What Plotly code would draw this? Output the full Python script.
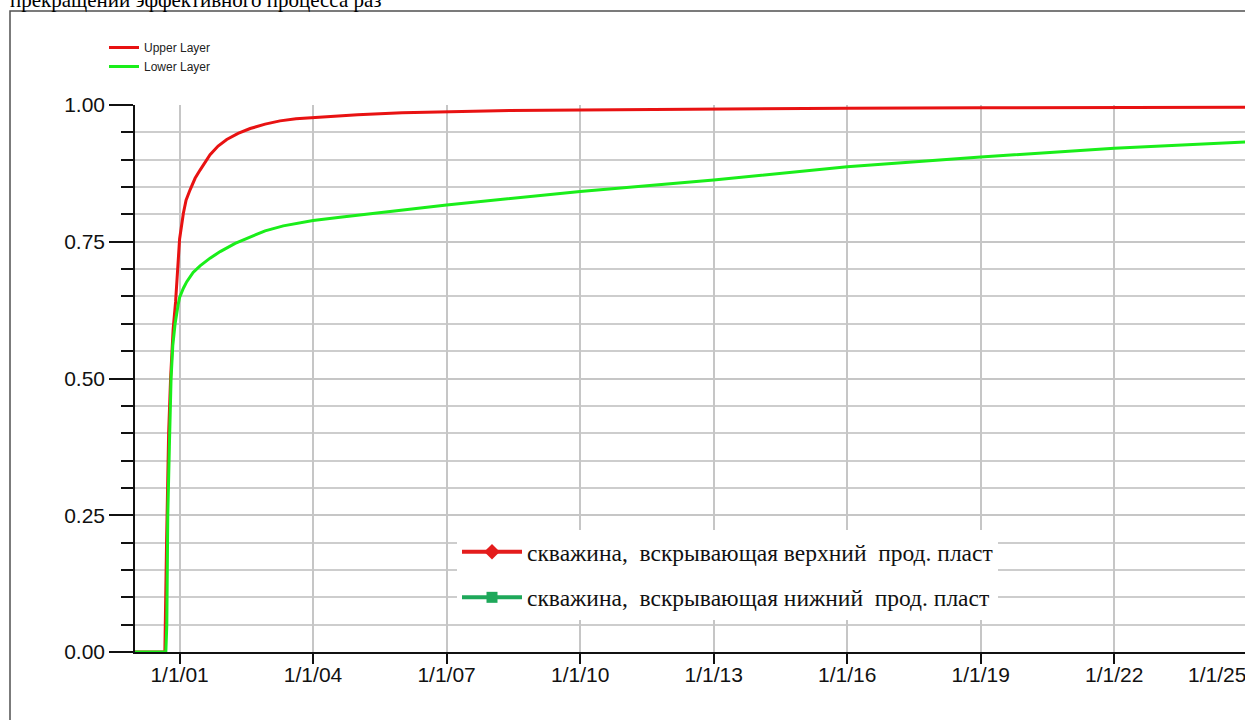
import plotly.graph_objects as go

# ---- data ----
upper_dates = ["2000-01-01", "2000-09-02", "2000-09-16", "2000-10-03", "2000-10-19", "2000-11-09",
               "2000-11-29", "2000-12-16", "2001-01-01", "2001-02-01", "2001-02-23", "2001-03-28",
               "2001-05-08", "2001-06-18", "2001-07-29", "2001-09-08", "2001-11-13", "2002-01-23",
               "2002-04-26", "2002-08-03", "2002-12-04", "2003-04-05", "2003-08-14", "2004-01-01",
               "2005-01-01", "2006-01-01", "2007-01-01", "2008-06-01", "2010-01-01", "2013-01-01",
               "2016-01-01", "2019-01-01", "2022-01-01", "2025-03-01"]
upper_vals = [0.0, 0.0, 0.20, 0.40, 0.50, 0.59, 0.64, 0.70, 0.755, 0.802, 0.826, 0.845,
              0.866, 0.881, 0.896, 0.909, 0.925, 0.937, 0.948, 0.957, 0.965, 0.971, 0.975, 0.977,
              0.982, 0.986, 0.988, 0.990, 0.991, 0.993, 0.994, 0.995, 0.996, 0.996]

lower_dates = ["2000-01-01", "2000-09-10", "2000-09-18", "2000-09-26", "2000-10-09", "2000-10-23",
               "2000-11-06", "2000-11-25", "2000-12-20", "2001-01-01", "2001-02-01", "2001-03-01",
               "2001-04-22", "2001-06-18", "2001-09-08", "2001-11-30", "2002-04-02", "2002-08-03",
               "2002-12-04", "2003-05-02", "2004-01-01", "2004-08-10", "2005-07-04", "2007-01-01",
               "2010-01-01", "2013-01-01", "2016-01-01", "2019-01-01", "2022-01-01", "2025-03-01"]
lower_vals = [0.0, 0.0, 0.05, 0.25, 0.375, 0.50, 0.56, 0.60, 0.635, 0.648, 0.665, 0.677,
              0.694, 0.706, 0.720, 0.732, 0.747, 0.759, 0.770, 0.779, 0.789, 0.795, 0.803, 0.817,
              0.842, 0.863, 0.887, 0.905, 0.921, 0.933]

series_names = ["Upper Layer", "Lower Layer"]
well_names = ["скважина,  вскрывающая верхний  прод. пласт",
              "скважина,  вскрывающая нижний  прод. пласт"]
caption_text = "прекращении эффективного процесса раз"
last_tick_date = "2025-01-01"
last_tick_text = "1/1/25"

x_range = ["2000-01-01", "2025-03-01"]

# ---- figure ----
W, H = 1255, 720
L, T, B = 135, 105, 68
PW, PH = W - L, H - T - B


def px(xp):
    return (xp - L) / PW


def py(yp):
    return (H - B - yp) / PH


fig = go.Figure()
fig.add_trace(go.Scatter(x=upper_dates, y=upper_vals, mode="lines", name=series_names[0],
                         line=dict(color="#e81212", width=3), legend="legend", hoverinfo="skip"))
fig.add_trace(go.Scatter(x=lower_dates, y=lower_vals, mode="lines", name=series_names[1],
                         line=dict(color="#1aee1a", width=3), legend="legend", hoverinfo="skip"))

fig.add_trace(go.Scatter(x=[None], y=[None], mode="lines+markers", name=well_names[0],
                         line=dict(color="#e41c1c", width=4),
                         marker=dict(symbol="diamond", size=12, color="#e41c1c"),
                         legend="legend2", legendgroup="a"))
fig.add_trace(go.Scatter(x=[None], y=[None], mode="lines+markers", name=well_names[1],
                         line=dict(color="#1ea85a", width=4),
                         marker=dict(symbol="square", size=11, color="#1ea85a"),
                         legend="legend2", legendgroup="b"))

fig.update_layout(
    width=W, height=H,
    margin=dict(l=L, r=0, t=T, b=B, pad=0),
    paper_bgcolor="white", plot_bgcolor="white",
    font=dict(family="Liberation Sans, Arial, sans-serif", color="#111111"),
    showlegend=True,
    legend=dict(x=px(104), y=py(33), xanchor="left", yanchor="top",
                bgcolor="rgba(0,0,0,0)", borderwidth=0,
                font=dict(family="Liberation Sans, Arial, sans-serif", size=12, color="#222222"),
                itemwidth=30, tracegroupgap=0),
    legend2=dict(x=px(457), y=py(530), xanchor="left", yanchor="top",
                 bgcolor="white", borderwidth=0,
                 font=dict(family="Liberation Serif, Times New Roman, serif", size=23.5, color="#111111"),
                 itemwidth=60, tracegroupgap=12),
    xaxis=dict(type="date", range=x_range, tick0="2001-01-01", dtick="M36",
               tickformat="%-m/%-d/%y", showgrid=True, gridcolor="#c6c6c6", gridwidth=2,
               ticks="outside", ticklen=10, tickwidth=2, tickcolor="#111111",
               showline=True, linecolor="#111111", linewidth=2, zeroline=False,
               ticklabelstandoff=-7,
               tickfont=dict(size=21, color="#111111")),
    yaxis=dict(range=[0, 1], tick0=0, dtick=0.25, tickformat=".2f",
               ticks="outside", ticklen=24, tickwidth=2, tickcolor="#111111",
               showline=True, linecolor="#111111", linewidth=1.5, zeroline=False,
               showgrid=True, gridcolor="#c6c6c6", gridwidth=2,
               minor=dict(dtick=0.05, ticks="outside", ticklen=12, tickwidth=1.5,
                          tickcolor="#111111", showgrid=True, gridcolor="#cdcdcd", gridwidth=1.5),
               tickfont=dict(size=21, color="#111111")),
    shapes=[dict(type="rect", xref="paper", yref="paper",
                 x0=px(10), x1=px(1300), y0=py(760), y1=py(11),
                 line=dict(color="#505050", width=1.5), fillcolor="rgba(0,0,0,0)", layer="above")],
    annotations=[
        dict(text=caption_text, xref="paper", yref="paper", x=px(8), y=py(0.5),
             xanchor="left", yanchor="middle", showarrow=False,
             font=dict(family="Liberation Serif, Times New Roman, serif", size=21, color="#000000")),
        # last date label, pushed inside the chart edge as in the reference
        dict(text=last_tick_text, xref="x", yref="paper", x=last_tick_date, y=py(674),
             xanchor="center", yanchor="middle", xshift=-31, showarrow=False,
             font=dict(family="Liberation Sans, Arial, sans-serif", size=21, color="#111111")),
    ],
)

fig.write_html("out.html",
               config={"displayModeBar": False},
               post_script="document.body.style.margin='0';document.body.style.overflow='hidden';"
                           "document.documentElement.style.overflow='hidden';")
